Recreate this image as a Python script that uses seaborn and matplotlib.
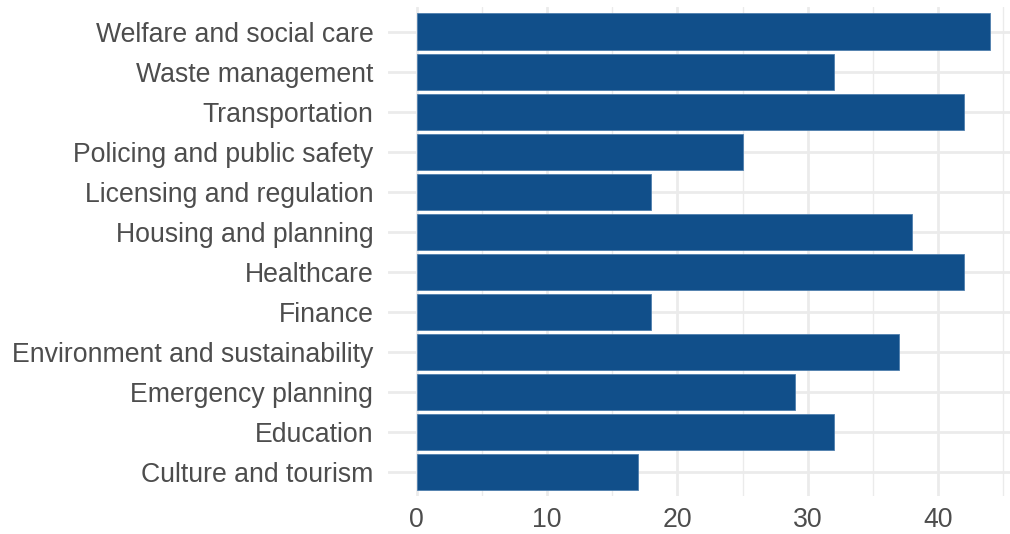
import matplotlib
matplotlib.use("Agg")
import matplotlib.pyplot as plt
import seaborn as sns
import pandas as pd
from matplotlib.ticker import MultipleLocator

# categories, top to bottom as shown
categories = [
    "Welfare and social care",
    "Waste management",
    "Transportation",
    "Policing and public safety",
    "Licensing and regulation",
    "Housing and planning",
    "Healthcare",
    "Finance",
    "Environment and sustainability",
    "Emergency planning",
    "Education",
    "Culture and tourism",
]
counts = [44, 32, 42, 25, 18, 38, 42, 18, 37, 29, 32, 17]
x_ticks = [0, 10, 20, 30, 40]

df = pd.DataFrame({"category": categories, "count": counts})

sns.set_style("white")
plt.rcParams["font.family"] = ["Liberation Sans", "DejaVu Sans"]

fig = plt.figure(figsize=(10.1, 5.34), dpi=100)
ax = fig.add_axes([0.384, 0.071, 0.616, 0.915])

sns.barplot(data=df, x="count", y="category", order=categories,
            color="#114F8A", saturation=1, width=0.9,
            edgecolor="#4F7FAE", linewidth=0.6, ax=ax, zorder=3)

ax.set_xlim(-2.2, 45.5)
ax.set_ylim(len(categories) - 0.4, -0.6)
ax.set_xticks(x_ticks)
ax.xaxis.set_minor_locator(MultipleLocator(5))

ax.grid(True, which="major", axis="both", color="#EBEBEB", linewidth=2.0, zorder=0)
ax.grid(True, which="minor", axis="x", color="#EBEBEB", linewidth=1.0, zorder=0)
ax.set_axisbelow(True)

for s in ax.spines.values():
    s.set_visible(False)

ax.tick_params(axis="both", which="both", length=0, labelsize=19.2, labelcolor="#4D4D4D")
ax.tick_params(axis="y", pad=10.5)
ax.tick_params(axis="x", pad=8)
ax.set_xlabel("")
ax.set_ylabel("")

fig.savefig("out.png", dpi=100)
